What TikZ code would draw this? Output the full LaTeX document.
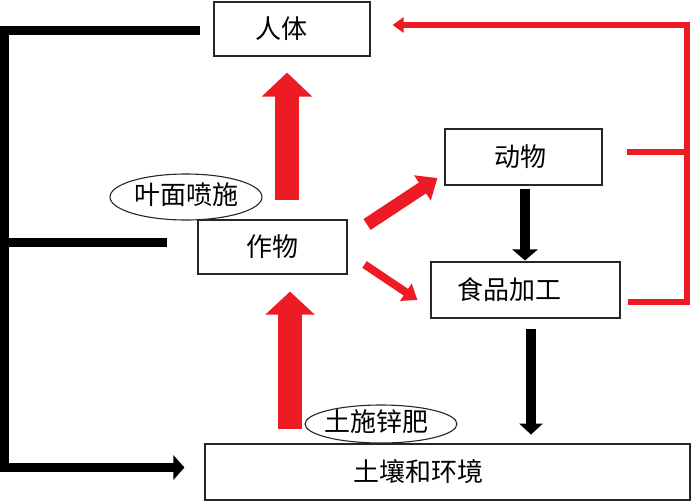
\documentclass[tikz,border=0pt]{standalone}
\usepackage{fontspec}
\newfontfamily\cjk{Noto Sans CJK SC}
\usetikzlibrary{arrows.meta,shapes.geometric,calc}
\definecolor{zred}{RGB}{237,28,36}
\newcommand{\padr}[1]{\rule{#1}{0pt}}
\newcommand{\ovaltext}[1]{\raisebox{-0.59em}{\smash{\makebox[0pt]{#1}}}}
\begin{document}
\begin{tikzpicture}[x=1pt,y=-1pt,
  box/.style={draw=black!85,line width=1.1pt,inner sep=0pt,font=\cjk\fontsize{26}{30}\selectfont},
  oval/.style={ellipse,draw=black!85,line width=1.1pt,fill=white,inner sep=0pt,font=\cjk\fontsize{26}{30}\selectfont},
  bline/.style={line width=9pt,black,line join=miter},
  rline/.style={line width=6.5pt,zred,line join=miter},
  fatred/.style={line width=#1,zred},
]
\useasboundingbox (0,0) rectangle (700,501);
% nodes
\node[box,minimum width=156pt,minimum height=54pt] (renti) at (292,29) {\raisebox{-3pt}{人体}\padr{22pt}};
\node[box,minimum width=149pt,minimum height=54pt] (zuowu) at (272.5,247) {作物};
\node[box,minimum width=157pt,minimum height=56pt] (dongwu) at (523.5,157) {动物\padr{7pt}};
\node[box,minimum width=189pt,minimum height=56pt] (shipin) at (525.5,290) {食品加工\padr{33pt}};
\node[box,minimum width=485pt,minimum height=56pt] (turang) at (447.5,472) {土壤和环境\padr{59pt}};
% red fat arrows
\draw[fatred=24pt,-{Triangle[width=49pt,length=24pt]}] ($(zuowu.north)+(14.5,-19)$) -- ($(renti.south)+(-5,16)$);
\draw[fatred=24pt,-{Triangle[width=48pt,length=23pt]}] ($(turang.north)+(-157.5,-14)$) -- ($(zuowu.south)+(17.5,17)$);
\draw[fatred=13pt,-{Triangle[width=29pt,length=18pt]}] ($(zuowu.east)+(19.5,-22.5)$) -- ($(dongwu.west)+(-7,21)$);
\draw[fatred=8pt,-{Triangle[width=20pt,length=14pt]}] ($(zuowu.east)+(17,17.5)$) -- ($(shipin.west)+(-13,10)$);
% black arrows
\draw[line width=10pt,black,-{Triangle[width=25pt,length=11pt]}] ($(dongwu.south)+(1.5,3)$) -- ($(shipin.north)+(-0.5,-1)$);
\draw[line width=9.5pt,black,-{Triangle[width=23pt,length=11pt]}] ($(shipin.south)+(5.5,10)$) -- ($(shipin.south)+(5.5,116)$);
% feedback lines
\coordinate (c1) at (4,30);
\coordinate (c2) at (4,467.5);
\coordinate (bend) at ($(zuowu.west)+(-30,-5)$);
\draw[bline,-{Triangle[width=24pt,length=11pt]}] ($(renti.west)+(-13,1)$) -- (c1) -- (c2) -- ($(turang.west)+(-20,-4.5)$);
\draw[bline] (c1 |- bend) -- (bend);
\coordinate (r1) at (687,25);
\coordinate (r2) at (687,302);
\coordinate (dstart) at ($(dongwu.east)+(24,-5)$);
\draw[rline,-{Triangle[width=15pt,length=11pt]}] ($(shipin.east)+(7,12)$) -- (r2) -- (r1) -- ($(renti.east)+(22,-4)$);
\draw[rline] (dstart) -- (dstart -| r1);
% ellipses
\node[oval,minimum width=152pt,minimum height=46pt] (yemian) at (186,197) {\ovaltext{叶面喷施}};
\node[oval,minimum width=152pt,minimum height=38pt] (shishi) at (381,424) {\ovaltext{土施锌肥\padr{10pt}}};
\end{tikzpicture}
\end{document}
